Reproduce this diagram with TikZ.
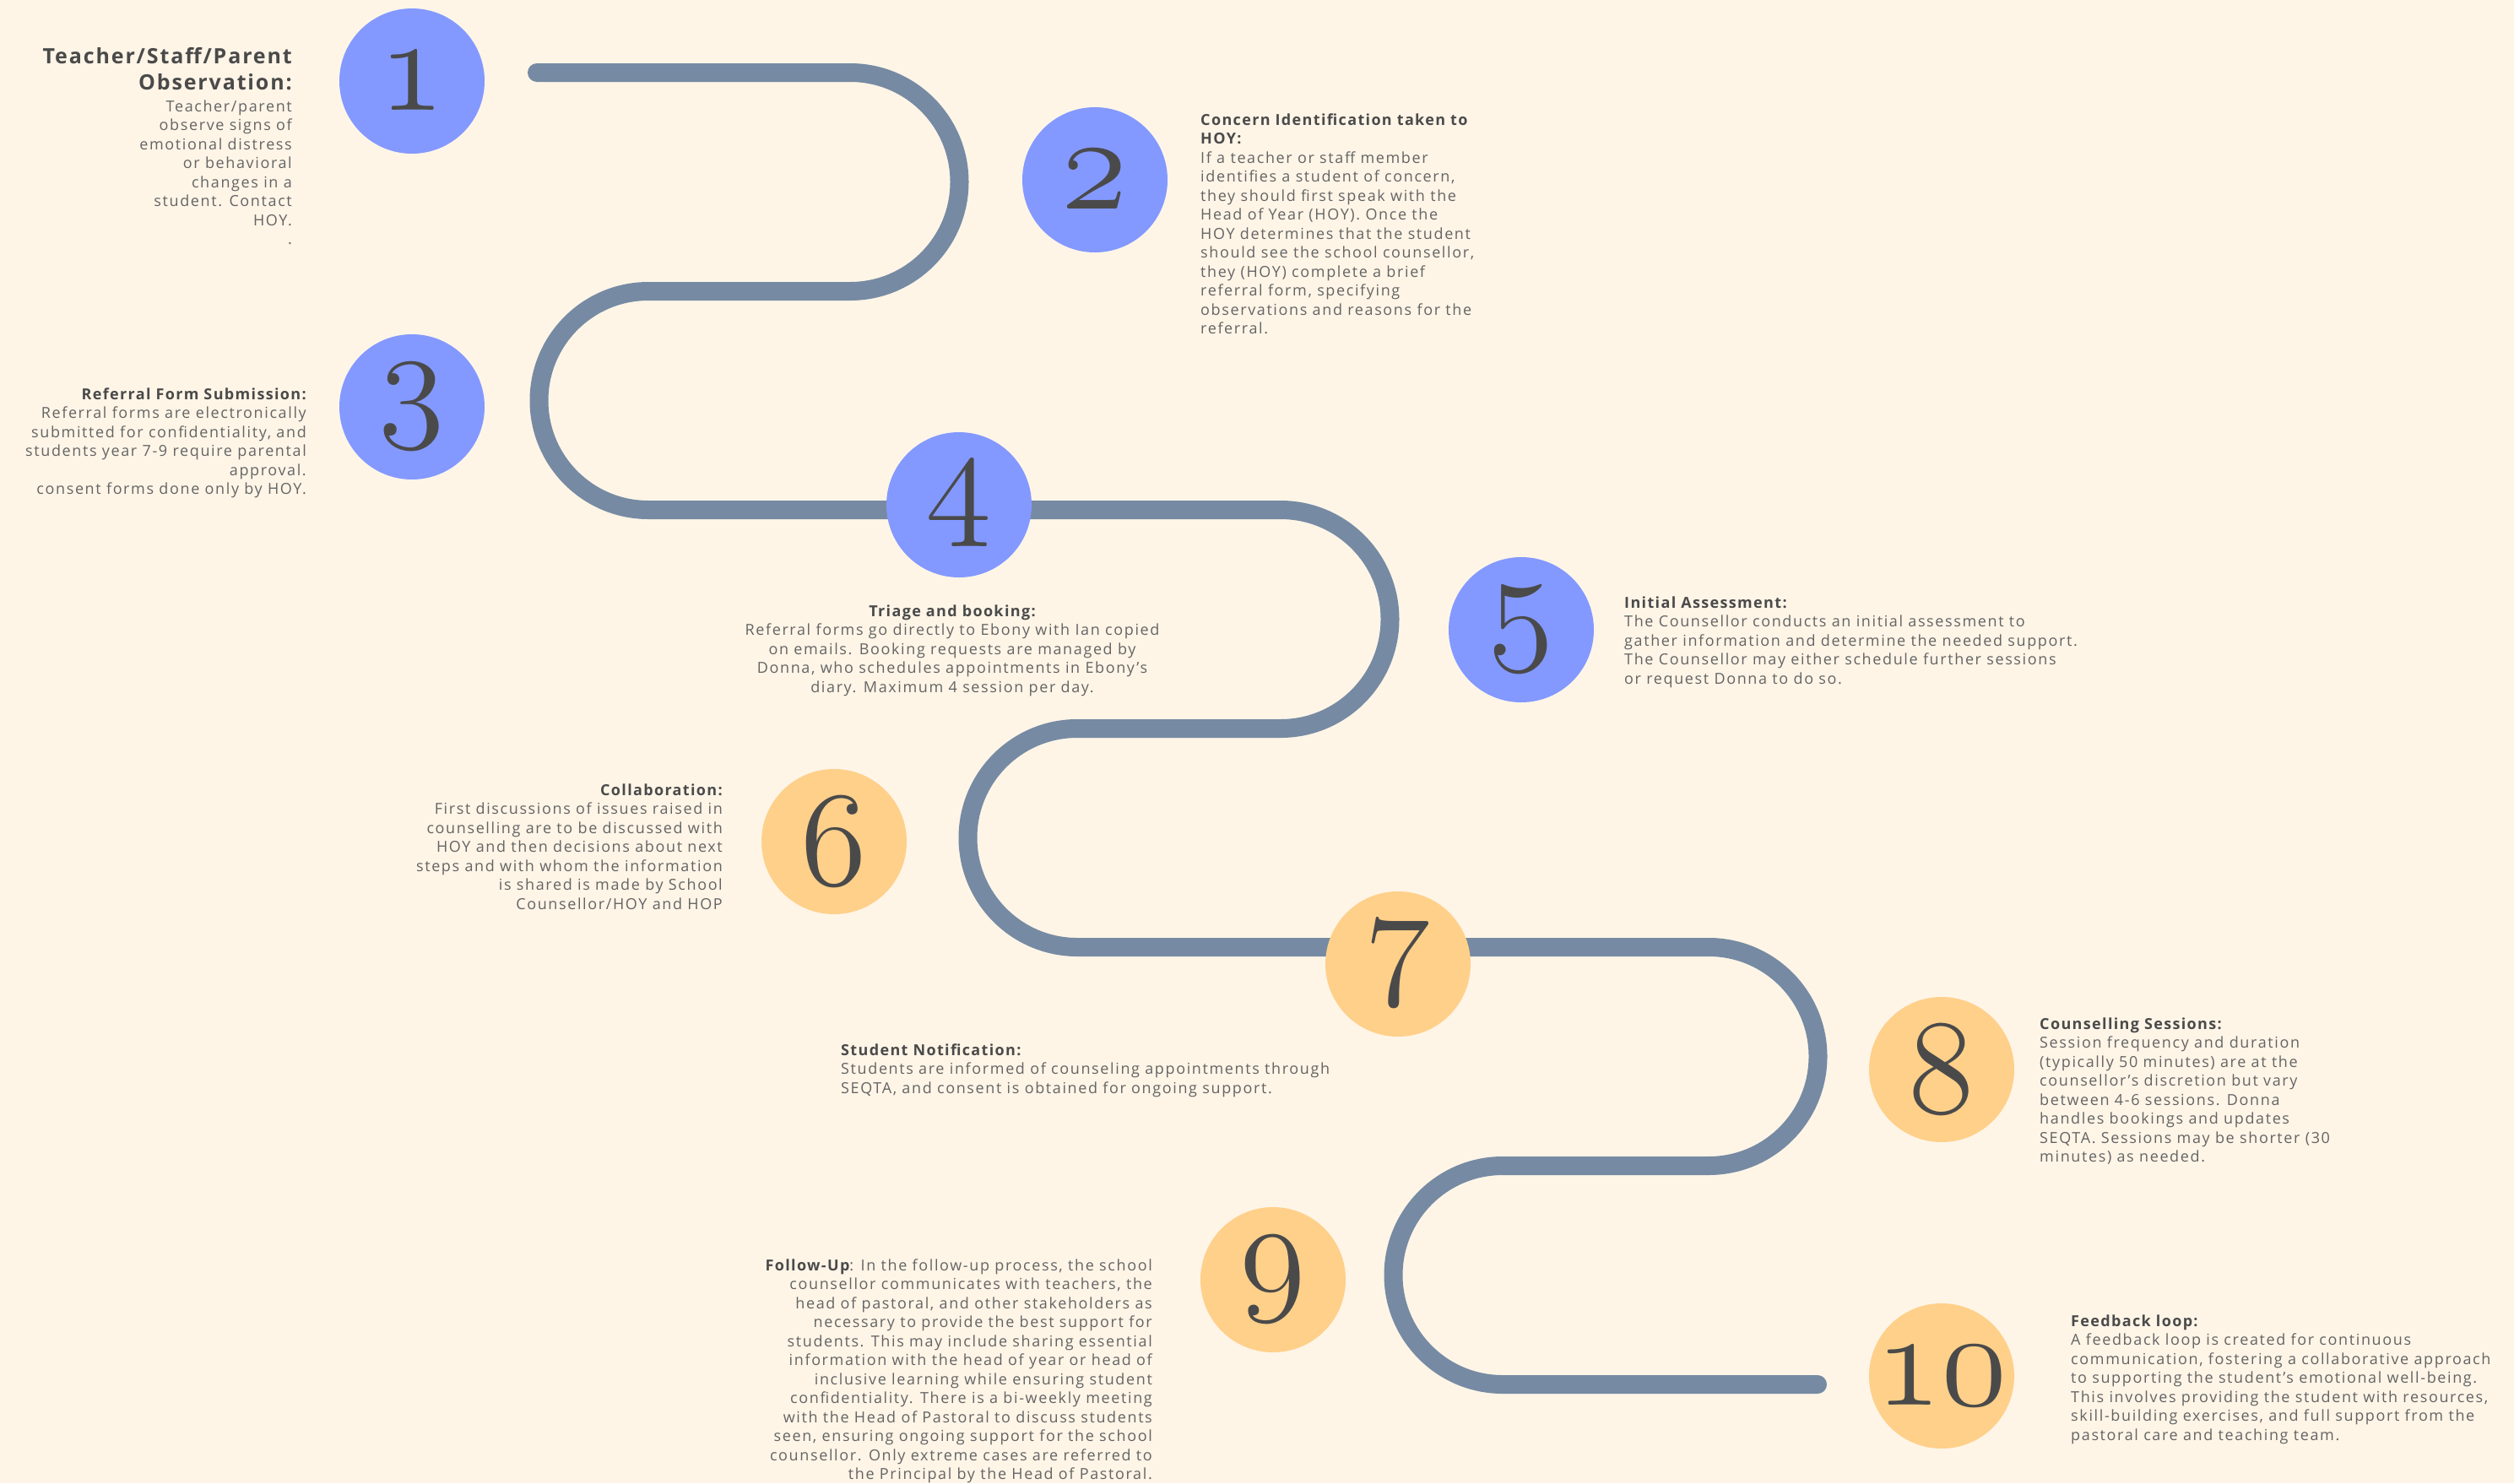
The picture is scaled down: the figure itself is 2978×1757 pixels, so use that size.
\documentclass[tikz,border=0pt]{standalone}
\usepackage{fontspec}
\setmainfont{Open Sans}[LetterSpace=9, BoldFeatures={LetterSpace=7.5}]
\font\stepfigs=cmmi12 at 160pt
\definecolor{pagecream}{RGB}{254, 245, 231}
\definecolor{roadslate}{RGB}{118, 138, 163}
\definecolor{stepblue}{RGB}{131, 153, 255}
\definecolor{steporange}{RGB}{255, 208, 138}
\definecolor{numgray}{RGB}{74, 74, 74}
\definecolor{headgray}{RGB}{74, 74, 74}
\definecolor{bodygray}{RGB}{100, 100, 100}
\newcommand{\hd}[1]{{\color{headgray}\bfseries #1}}
\tikzset{
    x=1pt, y=-1pt,
    road/.style={draw=roadslate, line width=22pt, line cap=round},
    stepdot/.style={circle, minimum size=172pt, inner sep=0pt, text=numgray,
        font=\stepfigs},
    stepnote/.style={inner sep=0pt, text=bodygray,
        font=\fontsize{18}{22.5}\selectfont},
}

\begin{document}
\begin{tikzpicture}
    \useasboundingbox (0, 0) rectangle (2978, 1757);
    \fill[pagecream] (0, 0) rectangle (2978, 1757);
    % winding road
    \draw[road] (636, 86) -- (1007, 86) arc[start angle=90, end angle=-90,
        radius=129.5pt] -- (768, 345) arc[start angle=90, end angle=270,
        radius=129.5pt] -- (1517, 604) arc[start angle=90, end angle=-90,
        radius=129.5pt] -- (1276, 863) arc[start angle=90, end angle=270,
        radius=129.5pt] -- (2024, 1122) arc[start angle=90, end angle=-90,
        radius=129.5pt] -- (1780, 1381) arc[start angle=90, end angle=270,
        radius=129.5pt] -- (2153, 1640);
    \foreach \i/\px/\py/\c in {1/488/96/stepblue, 2/1297/213/stepblue,
        3/488/482/stepblue, 4/1136/598/stepblue, 5/1802/746/stepblue,
        6/988/997/steporange, 7/1656/1142/steporange, 8/2300/1267/steporange,
        9/1508/1516/steporange, 10/2300/1630/steporange} {
        \node[stepdot, fill=\c] (n\i) at (\px, \py) {\i};
    }
    \node[inner sep=0pt, anchor=north east, align=right, text=headgray,
        font=\fontsize{25}{31}\selectfont\bfseries] (t1head) at (346, 53.3)
        {\strut Teacher/Staff/Parent\\Observation:};
    \node[stepnote, anchor=north east, align=right] (t1) at (346, 116.25)
        {\strut Teacher/parent\\observe signs of\\emotional distress\\or
        behavioral\\changes in a\\student. Contact\\HOY.\\.};
    \node[stepnote, anchor=north west, align=left] (t2) at (1422, 132.25)
        {\strut\hd{Concern Identification taken to}\\\hd{HOY:}\\If a teacher
        or staff member\\identifies a student of concern,\\they should first
        speak with the\\Head of Year (HOY). Once the\\HOY determines that the
        student\\should see the school counsellor,\\they (HOY) complete a
        brief\\referral form, specifying\\observations and reasons for
        the\\referral.};
    \node[stepnote, anchor=north east, align=right] (t3) at (363, 457.25)
        {\strut\hd{Referral Form Submission:}\\Referral forms are
        electronically\\submitted for confidentiality, and\\students year 7-9
        require parental\\approval.\\consent forms done only by HOY.};
    \node[stepnote, anchor=north, align=center] (t4) at (1128, 714.25)
        {\strut\hd{Triage and booking:}\\Referral forms go directly to Ebony
        with Ian copied\\on emails. Booking requests are managed by\\Donna,
        who schedules appointments in Ebony's\\diary. Maximum 4 session per
        day.};
    \node[stepnote, anchor=north west, align=left] (t5) at (1924, 704.25)
        {\strut\hd{Initial Assessment:}\\The Counsellor conducts an initial
        assessment to\\gather information and determine the needed
        support.\\The Counsellor may either schedule further sessions\\or
        request Donna to do so.};
    \node[stepnote, anchor=north east, align=right] (t6) at (856, 926.25)
        {\strut\hd{Collaboration:}\\First discussions of issues raised
        in\\counselling are to be discussed with\\HOY and then decisions about
        next\\steps and with whom the information\\is shared is made by
        School\\Counsellor/HOY and HOP};
    \node[stepnote, anchor=north west, align=left] (t7) at (996, 1234.25)
        {\strut\hd{Student Notification:}\\Students are informed of counseling
        appointments through\\SEQTA, and consent is obtained for ongoing
        support.};
    \node[stepnote, anchor=north west, align=left] (t8) at (2416, 1203.25)
        {\strut\hd{Counselling Sessions:}\\Session frequency and
        duration\\(typically 50 minutes) are at the\\counsellor's discretion
        but vary\\between 4-6 sessions. Donna\\handles bookings and
        updates\\SEQTA. Sessions may be shorter (30\\minutes) as needed.};
    \node[stepnote, anchor=north east, align=right] (t9) at (1365, 1489.25)
        {\strut\hd{Follow-Up}: In the follow-up process, the school\\counsellor
        communicates with teachers, the\\head of pastoral, and other
        stakeholders as\\necessary to provide the best support
        for\\students. This may include sharing essential\\information with
        the head of year or head of\\inclusive learning while ensuring
        student\\confidentiality. There is a bi-weekly meeting\\with the Head
        of Pastoral to discuss students\\seen, ensuring ongoing support for the
        school\\counsellor. Only extreme cases are referred to\\the Principal
        by the Head of Pastoral.};
    \node[stepnote, anchor=north west, align=left] (t10) at (2453, 1555.25)
        {\strut\hd{Feedback loop:}\\A feedback loop is created for
        continuous\\communication, fostering a collaborative approach\\to
        supporting the student's emotional well-being.\\This involves providing
        the student with resources,\\skill-building exercises, and full support
        from the\\pastoral care and teaching team.};
\end{tikzpicture}
\end{document}
